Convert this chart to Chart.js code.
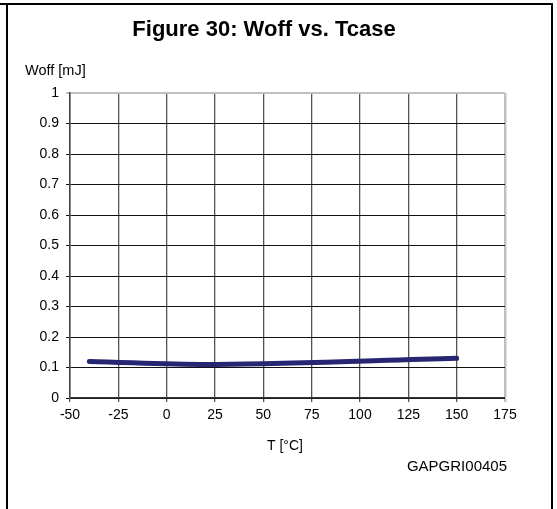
<!DOCTYPE html>
<html>
<head>
<meta charset="utf-8">
<script src="https://cdn.jsdelivr.net/npm/chart.js@4.4.1/dist/chart.umd.min.js"></script>
<style>
  html, body { margin: 0; padding: 0; background: #ffffff; }
  #wrap { width: 557px; height: 509px; position: relative; }
</style>
</head>
<body>
<div id="wrap"><canvas id="c" width="557" height="509"></canvas></div>
<script>
// Case temperature (°C) and turn-off energy (mJ)
const tempC = [-40, 25, 150];
const woffMJ = [0.12, 0.11, 0.13];

// Axis ranges and tick steps
const xTicks = [-50, -25, 0, 25, 50, 75, 100, 125, 150, 175];
const yTicks = [0, 0.1, 0.2, 0.3, 0.4, 0.5, 0.6, 0.7, 0.8, 0.9, 1];

const titleText = 'Figure 30: Woff vs. Tcase';
const yAxisLabel = 'Woff [mJ]';
const xAxisLabel = 'T [°C]';
const docCode = 'GAPGRI00405';

const FONT = '"Liberation Sans", Arial, sans-serif';

// Frame and captions drawn around the plot
const framePlugin = {
  id: 'frame',
  afterDraw(chart) {
    const ctx = chart.ctx;
    ctx.save();
    ctx.fillStyle = '#000000';
    ctx.fillRect(0, 3, 553, 2);
    ctx.fillRect(6, 3, 2, 506);
    ctx.fillRect(551, 3, 2, 506);

    ctx.fillStyle = '#000000';
    ctx.textBaseline = 'alphabetic';
    ctx.font = 'bold 22px ' + FONT;
    ctx.textAlign = 'center';
    ctx.fillText(titleText, 264, 36);

    ctx.font = '14.5px ' + FONT;
    ctx.textAlign = 'left';
    ctx.fillText(yAxisLabel, 25, 75);
    ctx.font = '14px ' + FONT;
    ctx.fillText(xAxisLabel, 267, 450);
    ctx.font = '15px ' + FONT;
    ctx.textAlign = 'right';
    ctx.fillText(docCode, 507, 471);
    ctx.restore();
  }
};

new Chart(document.getElementById('c'), {
  type: 'line',
  data: {
    datasets: [{
      data: tempC.map((t, i) => ({ x: t, y: woffMJ[i] })),
      borderColor: '#262672',
      borderWidth: 5,
      borderCapStyle: 'round',
      pointRadius: 0,
      tension: 0.35,
      fill: false
    }]
  },
  options: {
    responsive: false,
    animation: false,
    events: [],
    layout: { padding: { left: 0, top: 93, right: 52, bottom: 0 } },
    plugins: {
      legend: { display: false },
      title: { display: false },
      tooltip: { enabled: false }
    },
    scales: {
      x: {
        type: 'linear',
        min: xTicks[0],
        max: xTicks[xTicks.length - 1],
        afterBuildTicks(scale) { scale.ticks = xTicks.map(v => ({ value: v })); },
        afterFit(scale) { scale.height = 111; },
        grid: {
          color: ctx => (ctx.tick && ctx.tick.value === 175 ? '#c0c0c0' : '#555555'),
          lineWidth: ctx => (ctx.tick && ctx.tick.value === 175 ? 2.5 : 1.3),
          tickLength: 4,
          drawTicks: true
        },
        border: { color: '#333333', width: 1.5 },
        ticks: {
          color: '#000000',
          font: { family: FONT, size: 14 },
          padding: 5,
          maxRotation: 0,
          autoSkip: false
        }
      },
      y: {
        type: 'linear',
        min: 0,
        max: 1,
        afterBuildTicks(scale) { scale.ticks = yTicks.map(v => ({ value: v })); },
        afterFit(scale) { scale.width = 70; },
        grid: {
          color: ctx => (ctx.tick && ctx.tick.value === 1 ? '#c0c0c0' : '#111111'),
          lineWidth: ctx => (ctx.tick && ctx.tick.value === 1 ? 2 : 1),
          tickLength: 4,
          drawTicks: true
        },
        border: { color: '#444444', width: 1.5 },
        ticks: {
          color: '#000000',
          font: { family: FONT, size: 14 },
          padding: 7,
          callback: v => String(Math.round(v * 10) / 10)
        }
      }
    }
  },
  plugins: [framePlugin]
});
</script>
</body>
</html>
